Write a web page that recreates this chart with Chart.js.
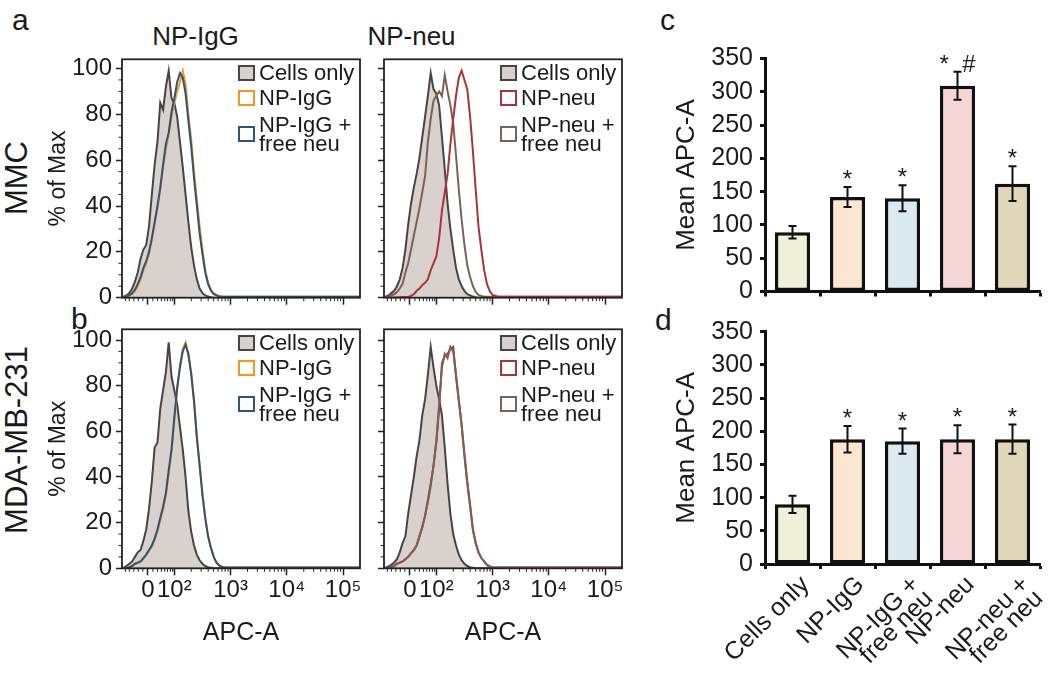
<!DOCTYPE html>
<html><head><meta charset="utf-8">
<script src="https://cdn.jsdelivr.net/npm/chart.js@4.4.1/dist/chart.umd.min.js"></script>
<style>
html,body{margin:0;padding:0;background:#fff}
body{width:1050px;height:686px;position:relative;overflow:hidden;font-family:"Liberation Sans",Arial,Helvetica,sans-serif;color:#1a1a1a}
.cv{position:absolute}
.t{position:absolute;white-space:nowrap;line-height:1}
.rot{transform:translate(-50%,-50%) rotate(-90deg)}
.ctr{transform:translateX(-50%)}
.lg{position:absolute;width:120px;height:100px}
</style></head><body>

<div class="t" style="left:12px;top:5px;font-size:30px">a</div>
<div class="t" style="left:71px;top:304px;font-size:30px">b</div>
<div class="t" style="left:660px;top:5px;font-size:30px">c</div>
<div class="t" style="left:655px;top:305px;font-size:30px">d</div>
<div class="t ctr" style="left:195.5px;top:23px;font-size:26px">NP-IgG</div>
<div class="t ctr" style="left:411.5px;top:23px;font-size:26px">NP-neu</div>
<div class="t rot" style="left:16px;top:178px;font-size:31px">MMC</div>
<div class="t rot" style="left:16px;top:440px;font-size:31px">MDA-MB-231</div>

<div class="cv" style="left:30px;top:40px"><canvas id="aL" width="340" height="280"></canvas></div>
<div class="cv" style="left:370px;top:40px"><canvas id="aR" width="262" height="280"></canvas></div>
<div class="cv" style="left:30px;top:310px"><canvas id="bL" width="340" height="350"></canvas></div>
<div class="cv" style="left:370px;top:310px"><canvas id="bR" width="262" height="350"></canvas></div>
<div class="cv" style="left:640px;top:30px"><canvas id="cBar" width="430" height="285"></canvas></div>
<div class="cv" style="left:640px;top:300px"><canvas id="dBar" width="430" height="386"></canvas></div>

<script>
// ---------- DATA ----------
// histogram bins on the display axis (decades: 2 = 10^2, 3 = 10^3 ...; 1.53 = 0)
const histBins = [1.07,
  1.10,1.15,1.20,1.25,1.30,1.35,1.40,1.45,1.50,1.55,
  1.60,1.65,1.70,1.75,1.80,1.85,1.90,1.95,2.00,2.05,
  2.10,2.15,2.20,2.25,2.30,2.35,2.40,2.45,2.50,2.55,
  2.60,2.65,2.70,2.75,2.80,2.85,2.90,2.95,3.00,
  3.10,3.30,5.30];
const histTickPos = [1.53, 2, 3, 4, 5];
const histTickLabels = ['0', '10\u00B2', '10\u00B3', '10\u2074', '10\u2075'];
const histYTicks = [0, 20, 40, 60, 80, 100];

// MMC (row a)
const aCellsL  = [0, .5,1,2,4,7,11,17,21,23,31, 45,58,68,85,82,92,99,87,85,79, 68,57,45,33,22,14,8,4,2,1, .5,.2,0,0,0,0,0,0,0, 0,0,0];
const aOrangeL = [0, 0,.5,1,1.5,3,5,8,12,15,19, 25,32,39,47,57,65,71,79,85,90, 94,99,93,80,69,55,43,31,21,12, 6.5,3.5,2,1.2,.8,.5,.4,.4,.4, .4,.4,.4];
const aBlueL   = [0, 0,.5,1,2,3.5,6,9,13,16,20, 26,33,40,48,58,67,72,81,87,94, 98,96,89,77,66,52,40,28,19,11, 6,3,1.5,1,.5,.4,.4,.4,.4, .4,.4,.4];
const aCellsR  = [0, .5,1,2,3,5,8,13,21,32,41, 48,54,61,70,79,88,98,91,89,84, 70,56,41,30,21,13,8,5,3,1.5, 1,.5,.2,0,0,0,0,0,0, 0,0,0];
const aRedR    = [0, 0,0,.1,.1,.2,.2,.3,.3,.3,.8, 1.5,3,4,5.5,6.5,8,12,15,18,26, 38,46,54,67,78,88,96,99,95,91, 79,64,47,31,21,12,6,2.8,1.2, .4,.4,.4];
const aBrownR  = [0, 0,.5,1,1.5,2.5,4,6,11,15,21, 27,33,39,46,53,68,78,86,88,90, 88,97,90,84,76,62,47,34,23,14, 9,5,2.5,1.2,.7,.4,.4,.4,.4, .4,.4,.4];
// MDA-MB-231 (row b)
const bCellsL  = [0, .3,1,2,3,5,7,8,12,17,26, 38,53,55,70,78,86,99,84,78,72, 62,52,40,25,16,10,6,3.5,2,1, .5,.3,0,0,0,0,0,0,0, 0,0,0];
const bOrangeL = [0, 0,.3,.5,1,1.8,2.3,3,4.3,5.8,7.5, 9.5,12.5,16,21,26,32,41,51,65,78, 89,96,99,93,86,74,58,45,33,22, 14,9,5,2.5,1.3,.7,.4,.4,.4, .4,.4,.4];
const bBlueL   = [0, 0,.3,.5,1,2,2.5,3,4.5,6,8, 10,13,17,22,27,33,43,52,66,79, 88,95,98,94,85,73,57,45,32,22, 14,9,5,2.5,1.2,.6,.4,.4,.4, .4,.4,.4];
const bCellsR  = [0, .3,.8,1.5,2.5,4,7,11,14,24,32, 40,49,56,67,74,85,97,88,80,74, 67,53,37,24,15,10,6,3.5,2,1, .5,.3,0,0,0,0,0,0,0, 0,0,0];
const bRedR    = [0, 0,.2,.5,1,2,2.5,3,4,5,6.5, 8,10,14,18,23,30,37,45,55,70, 90,93,94,96,97,84,73,63,50,38, 28,17,11,7,4.5,3,1.5,.8,.4, .4,.4,.4];
const bBrownR  = [0, 0,.2,.5,1,2,2.5,3,4,5,6.5, 8,10,14,18,23,29,36,45,56,72, 88,94,92,97,95,85,74,62,49,37, 27,17,11,7,4.5,3,1.5,.8,.4, .4,.4,.4];

// bar charts
const barCategories = ['Cells only', 'NP-IgG', ['NP-IgG +', 'free neu'], 'NP-neu', ['NP-neu +', 'free neu']];
const mmcMean = [89, 142, 140, 309, 162];
const mmcErr  = [9.5, 15, 19.5, 21, 26];
const mmcSig  = ['', '*', '*', '*  #', '*'];
const mdaMean = [90, 188, 185, 188, 188];
const mdaErr  = [13, 20, 19, 21, 22];
const mdaSig  = ['', '*', '*', '*', '*'];

// ---------- STYLE ----------
const FONT = '"Liberation Sans", Arial, Helvetica, sans-serif';
Chart.defaults.font.family = FONT;
Chart.defaults.color = '#1a1a1a';
const INK = '#1a1a1a';
const C = {cellsFill:'#d9d1ce', cellsLine:'#4a4343', orange:'#f7941d', blue:'#2e5576', red:'#a8343a', brown:'#7b6252'};
const barColors = ['#eef1d8', '#fde6d0', '#dbe9f0', '#f6d6d4', '#e2d8b9'];

// minor tick positions (axis decoration only)
const xMinor = [1.13,1.2,1.28,1.36,1.44,1.62,1.7,1.77,1.83,1.88,1.93,1.97];
[2,3,4].forEach(d => { for (let k = 2; k <= 9; k++) xMinor.push(d + Math.log10(k)); });
const yMinor = [];
for (let v = 5; v < 100; v += 5) if (v % 20) yMinor.push(v);

function framePlugin() {
  return {
    id: 'frame',
    afterDraw(chart) {
      const {ctx, chartArea: a, scales} = chart;
      ctx.save();
      ctx.strokeStyle = '#222';
      ctx.lineWidth = 1.8;
      ctx.strokeRect(a.left, a.top, a.right - a.left, a.bottom - a.top);
      ctx.lineWidth = 1;
      ctx.beginPath();
      xMinor.forEach(v => { const p = scales.x.getPixelForValue(v); ctx.moveTo(p, a.bottom); ctx.lineTo(p, a.bottom + 3.5); });
      yMinor.forEach(v => { const p = scales.y.getPixelForValue(v); ctx.moveTo(a.left, p); ctx.lineTo(a.left - 3.5, p); });
      ctx.stroke();
      ctx.restore();
    }
  };
}

function histChart(id, series, o) {
  const datasets = series.map(s => ({
    label: s.label,
    data: histBins.map((u, i) => ({x: u, y: s.data[i]})),
    borderColor: s.line,
    borderWidth: 2,
    backgroundColor: s.fill || 'rgba(0,0,0,0)',
    fill: s.fill ? 'origin' : false,
    pointRadius: 0,
    tension: 0,
    order: s.order
  }));
  const chart = new Chart(document.getElementById(id), {
    type: 'line',
    data: {datasets},
    options: {
      responsive: false, animation: false, devicePixelRatio: 1,
      layout: {padding: {top: o.padTop, right: 10, left: 0, bottom: 0}},
      plugins: {legend: {display: false}, tooltip: {enabled: false}},
      scales: {
        x: {
          type: 'linear', min: 1.07, max: 5.30,
          afterBuildTicks: s => { s.ticks = histTickPos.map(v => ({value: v})); },
          ticks: {callback: (v, i) => o.xLabels ? histTickLabels[i] : '', font: {size: 24}, color: INK, padding: 1, maxRotation: 0, autoSkip: false},
          grid: {drawOnChartArea: false, drawTicks: true, tickLength: 7, tickWidth: 1.5, tickColor: '#222'},
          border: {display: false},
          title: {display: o.xLabels, text: 'APC-A', font: {size: 25}, color: INK, padding: {top: 0, bottom: 12}},
          afterFit: s => { s.height = o.xH; }
        },
        y: {
          min: 0, max: o.ymax,
          afterBuildTicks: s => { s.ticks = histYTicks.map(v => ({value: v})); },
          ticks: {callback: v => o.yLabels ? String(v) : '', font: {size: 24}, color: INK, padding: 4},
          grid: {drawOnChartArea: false, drawTicks: true, tickLength: 6, tickWidth: 1.5, tickColor: '#222'},
          border: {display: false},
          title: {display: o.yLabels, text: '% of Max', font: {size: 23}, color: INK, padding: {top: 14.7, bottom: 0}},
          afterFit: s => { s.width = o.yW; }
        }
      }
    },
    plugins: [framePlugin()]
  });
  // HTML legend inside the plot, top-right
  const a = chart.chartArea;
  const lg = document.createElement('div');
  lg.className = 'lg';
  lg.style.left = (o.left + a.right - 122) + 'px';
  lg.style.top = (o.top + a.top + 2.7) + 'px';
  const offs = [0, 25.4, 52.6];
  o.legend.forEach((idx, k) => {
    const s = series[idx];
    const lines = s.label.split('\n');
    const row = document.createElement('div');
    row.style.cssText = 'position:absolute;left:0;top:' + offs[k] + 'px;display:flex;align-items:center';
    const sw = document.createElement('span');
    sw.style.cssText = 'display:inline-block;flex:none;width:17px;height:16px;box-sizing:border-box;border:2px solid ' + s.line + ';background:' + (s.fill || '#fff') + ';margin-right:4px';
    const tx = document.createElement('span');
    tx.style.cssText = 'font-size:22px;white-space:nowrap;line-height:' + (lines.length > 1 ? 19 : 22) + 'px';
    tx.innerHTML = lines.join('<br>');
    row.appendChild(sw); row.appendChild(tx);
    lg.appendChild(row);
  });
  document.body.appendChild(lg);
  return chart;
}

const lblCells = 'Cells only', lblIgG = 'NP-IgG', lblIgGF = 'NP-IgG +\nfree neu', lblNeu = 'NP-neu', lblNeuF = 'NP-neu +\nfree neu';

histChart('aL', [
  {label: lblIgG, data: aOrangeL, line: C.orange, order: 1},
  {label: lblIgGF, data: aBlueL, line: C.blue, order: 0},
  {label: lblCells, data: aCellsL, line: C.cellsLine, fill: C.cellsFill, order: 2}
], {left: 30, top: 40, padTop: 19.3, yW: 92, xH: 22.3, ymax: 104, xLabels: false, yLabels: true, legend: [2, 0, 1]});

histChart('aR', [
  {label: lblNeu, data: aRedR, line: C.red, order: 0},
  {label: lblNeuF, data: aBrownR, line: C.brown, order: 1},
  {label: lblCells, data: aCellsR, line: C.cellsLine, fill: C.cellsFill, order: 2}
], {left: 370, top: 40, padTop: 19.3, yW: 14, xH: 22.3, ymax: 104, xLabels: false, yLabels: false, legend: [2, 0, 1]});

histChart('bL', [
  {label: lblIgG, data: bOrangeL, line: C.orange, order: 1},
  {label: lblIgGF, data: bBlueL, line: C.blue, order: 0},
  {label: lblCells, data: bCellsL, line: C.cellsLine, fill: C.cellsFill, order: 2}
], {left: 30, top: 310, padTop: 19.3, yW: 92, xH: 91.7, ymax: 104.7, xLabels: true, yLabels: true, legend: [2, 0, 1]});

histChart('bR', [
  {label: lblNeu, data: bRedR, line: C.red, order: 1},
  {label: lblNeuF, data: bBrownR, line: C.brown, order: 0},
  {label: lblCells, data: bCellsR, line: C.cellsLine, fill: C.cellsFill, order: 2}
], {left: 370, top: 310, padTop: 19.3, yW: 14, xH: 91.7, ymax: 104.7, xLabels: true, yLabels: false, legend: [2, 0, 1]});

// ---------- bar charts ----------
function errPlugin(err, sig) {
  return {
    id: 'errbars',
    afterDatasetsDraw(chart) {
      const meta = chart.getDatasetMeta(0);
      const ys = chart.scales.y;
      const vals = chart.data.datasets[0].data;
      const ctx = chart.ctx;
      ctx.save();
      ctx.strokeStyle = '#111';
      ctx.fillStyle = INK;
      ctx.lineWidth = 2;
      ctx.font = '24px ' + FONT;
      ctx.textAlign = 'center';
      ctx.textBaseline = 'alphabetic';
      meta.data.forEach((bar, i) => {
        const x = bar.x;
        const top = ys.getPixelForValue(vals[i] + err[i]);
        const bot = ys.getPixelForValue(vals[i] - err[i]);
        ctx.beginPath();
        ctx.moveTo(x, top); ctx.lineTo(x, bot);
        ctx.moveTo(x - 4, top); ctx.lineTo(x + 4, top);
        ctx.moveTo(x - 4, bot); ctx.lineTo(x + 4, bot);
        ctx.stroke();
        if (sig[i]) ctx.fillText(sig[i], x, top);
      });
      ctx.restore();
    }
  };
}

function barChart(id, mean, err, sig, o) {
  return new Chart(document.getElementById(id), {
    type: 'bar',
    data: {
      labels: barCategories,
      datasets: [{
        data: mean,
        backgroundColor: barColors,
        borderColor: '#111',
        borderWidth: 3.5,
        borderSkipped: false,
        barPercentage: 0.64,
        categoryPercentage: 1
      }]
    },
    options: {
      responsive: false, animation: false, devicePixelRatio: 1,
      layout: {padding: {top: o.padTop, right: 30, left: 0, bottom: 0}},
      plugins: {legend: {display: false}, tooltip: {enabled: false}},
      scales: {
        x: {
          offset: true,
          ticks: {display: true, callback: function (v, i) { return o.xLabels ? this.getLabelForValue(v) : ''; },
                  font: {size: 25, lineHeight: 0.78}, color: INK, minRotation: o.xLabels ? 45 : 0, maxRotation: o.xLabels ? 45 : 0,
                  autoSkip: false, padding: 5, labelOffset: o.xLabels ? 13 : 0},
          grid: {offset: true, drawOnChartArea: false, drawTicks: true, tickLength: 5, tickWidth: 3, tickColor: '#111'},
          border: {display: true, width: 3, color: '#111'},
          afterFit: s => { s.height = o.xH; }
        },
        y: {
          min: 0, max: 350,
          ticks: {stepSize: 50, font: {size: 25}, color: INK, padding: 7},
          grid: {drawOnChartArea: false, drawTicks: true, tickLength: 5, tickWidth: 3, tickColor: '#111'},
          border: {display: true, width: 3, color: '#111'},
          title: {display: true, text: 'Mean APC-A', font: {size: 26}, color: INK, padding: {top: 31, bottom: 0}},
          afterFit: s => { s.width = 125; }
        }
      }
    },
    plugins: [errPlugin(err, sig)]
  });
}

barChart('cBar', mmcMean, mmcErr, mmcSig, {padTop: 28.5, xH: 23.5, xLabels: false});
barChart('dBar', mdaMean, mdaErr, mdaSig, {padTop: 31.7, xH: 122, xLabels: true});
</script>
</body></html>
